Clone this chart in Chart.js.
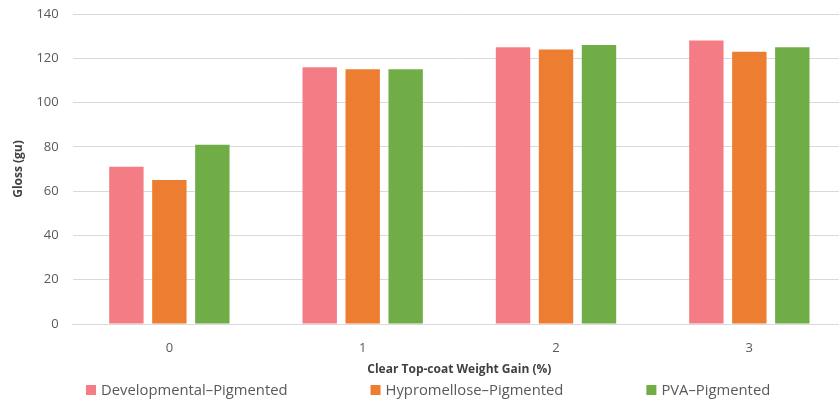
<!DOCTYPE html>
<html>
<head>
<meta charset="utf-8">
<script src="https://cdn.jsdelivr.net/npm/chart.js@4.4.1/dist/chart.umd.min.js"></script>
<style>
  html, body { margin: 0; padding: 0; background: #ffffff; overflow: hidden; }
  #wrap { position: relative; width: 846px; height: 403px; }
</style>
</head>
<body>
<div id="wrap"><canvas id="c"></canvas></div>
<script>
const categories = ['0', '1', '2', '3'];
const seriesNames = ['Developmental\u2013Pigmented', 'Hypromellose\u2013Pigmented', 'PVA\u2013Pigmented'];
const developmental = [71, 116, 125, 128];
const hypromellose = [65, 115, 124, 123];
const pva = [81, 115, 126, 125];
const yTicks = [0, 20, 40, 60, 80, 100, 120, 140];
const colors = ['#F47C85', '#ED7D31', '#70AD47'];

const FONT = "'Open Sans', 'Liberation Sans', sans-serif";

const customLegend = {
  id: 'customLegend',
  afterDraw(chart, args, opts) {
    const ctx = chart.ctx;
    ctx.save();
    ctx.font = opts.fontSize + 'px ' + FONT;
    ctx.textBaseline = 'middle';
    ctx.textAlign = 'left';
    let x = opts.startX;
    const y = opts.y;
    chart.data.datasets.forEach(ds => {
      ctx.fillStyle = ds.backgroundColor;
      ctx.fillRect(x, y - opts.box / 2, opts.box, opts.box);
      ctx.fillStyle = '#595959';
      ctx.fillText(ds.label, x + opts.box + opts.textGap, y + 1);
      x += opts.box + opts.textGap + ctx.measureText(ds.label).width + opts.gap;
    });
    ctx.restore();
  }
};

const values = [developmental, hypromellose, pva];

new Chart(document.getElementById('c'), {
  type: 'bar',
  data: {
    labels: categories,
    datasets: seriesNames.map((name, i) => ({
      label: name,
      data: values[i],
      backgroundColor: colors[i],
      borderWidth: 0,
      categoryPercentage: 0.667,
      barPercentage: 0.8
    }))
  },
  options: {
    responsive: true,
    maintainAspectRatio: false,
    animation: false,
    layout: { padding: { top: 14, right: 0, bottom: 26, left: 11 } },
    plugins: {
      legend: { display: false },
      tooltip: { enabled: false },
      customLegend: { startX: 86, y: 390, box: 10, textGap: 5, gap: 83, fontSize: 14.8 }
    },
    scales: {
      x: {
        grid: { display: false, drawTicks: false },
        border: { display: true, color: '#d9d9d9', width: 1 },
        ticks: { color: '#595959', font: { family: FONT, size: 13 }, padding: 16 },
        title: {
          display: true,
          text: 'Clear Top-coat Weight Gain (%)',
          color: '#404040',
          font: { family: FONT, size: 12, weight: 'bold' },
          padding: { top: -9, bottom: 0 }
        }
      },
      y: {
        min: 0,
        max: 140,
        afterBuildTicks(scale) { scale.ticks = yTicks.map(v => ({ value: v })); },
        afterFit(scale) { scale.paddingTop = 0; scale.paddingBottom = 0; },
        grid: { color: '#d9d9d9', lineWidth: 1, drawTicks: false },
        border: { display: false },
        ticks: { color: '#595959', font: { family: FONT, size: 13 }, padding: 14 },
        title: {
          display: true,
          text: 'Gloss (gu)',
          color: '#404040',
          font: { family: FONT, size: 12, weight: 'bold' },
          padding: { top: 0, bottom: -3 }
        }
      }
    }
  },
  plugins: [customLegend]
});
</script>
</body>
</html>
